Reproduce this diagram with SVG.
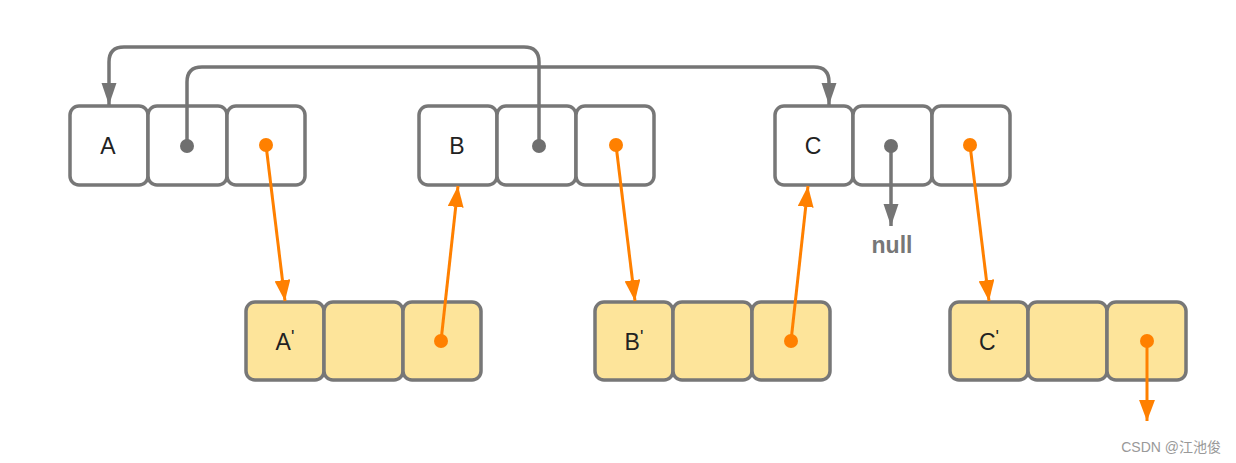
<svg xmlns="http://www.w3.org/2000/svg" width="1236" height="463" viewBox="0 0 1236 463">
<defs>
<style>
.cell{fill:#ffffff;stroke:#777777;stroke-width:3.5}
.ycell{fill:#fde49a;stroke:#777777;stroke-width:3.5}
.lbl{font-family:"Liberation Sans",Arial,sans-serif;font-size:23px;fill:#222222;text-anchor:middle}
.gline{fill:none;stroke:#757575;stroke-width:3.5}
.oline{fill:none;stroke:#ff8000;stroke-width:3}
.gdot{fill:#6f6f6f}
.odot{fill:#ff8000}
</style>
<marker id="ga" viewBox="0 0 10 6.8" refX="10" refY="3.4" markerWidth="6.3" markerHeight="4.3" markerUnits="strokeWidth" orient="auto">
<path d="M0,0 L10,3.4 L0,6.8 z" fill="#757575"/>
</marker>
<marker id="oa" viewBox="0 0 10 7.6" refX="10" refY="3.8" markerWidth="7" markerHeight="5.3" markerUnits="strokeWidth" orient="auto">
<path d="M0,0 L10,3.8 L0,7.6 z" fill="#ff8000"/>
</marker>
</defs>
<rect width="1236" height="463" fill="#ffffff"/>

<g id="nodeA">
<rect class="cell" x="70" y="106" width="78" height="79" rx="9"/>
<rect class="cell" x="148" y="106" width="79" height="79" rx="9"/>
<rect class="cell" x="227" y="106" width="78" height="79" rx="9"/>
<text class="lbl" x="108" y="154">A</text>
</g>
<g id="nodeB">
<rect class="cell" x="419" y="106" width="78" height="79" rx="9"/>
<rect class="cell" x="497" y="106" width="79" height="79" rx="9"/>
<rect class="cell" x="576" y="106" width="78" height="79" rx="9"/>
<text class="lbl" x="457" y="154">B</text>
</g>
<g id="nodeC">
<rect class="cell" x="775" y="106" width="78" height="79" rx="9"/>
<rect class="cell" x="853" y="106" width="79" height="79" rx="9"/>
<rect class="cell" x="932" y="106" width="78" height="79" rx="9"/>
<text class="lbl" x="813" y="154">C</text>
</g>
<g id="nodeA2">
<rect class="ycell" x="246" y="302" width="78" height="78" rx="9"/>
<rect class="ycell" x="324" y="302" width="79" height="78" rx="9"/>
<rect class="ycell" x="403" y="302" width="78" height="78" rx="9"/>
<text class="lbl" x="285" y="350">A<tspan dy="-7" font-size="18">'</tspan></text>
</g>
<g id="nodeB2">
<rect class="ycell" x="595" y="302" width="78" height="78" rx="9"/>
<rect class="ycell" x="673" y="302" width="79" height="78" rx="9"/>
<rect class="ycell" x="752" y="302" width="78" height="78" rx="9"/>
<text class="lbl" x="634" y="350">B<tspan dy="-7" font-size="18">'</tspan></text>
</g>
<g id="nodeC2">
<rect class="ycell" x="950" y="302" width="78" height="78" rx="9"/>
<rect class="ycell" x="1028" y="302" width="79" height="78" rx="9"/>
<rect class="ycell" x="1107" y="302" width="79" height="78" rx="9"/>
<text class="lbl" x="989" y="350">C<tspan dy="-7" font-size="18">'</tspan></text>
</g>

<g id="connectors">
<path class="gline" d="M539,146 V62 Q539,47 524,47 H124 Q109,47 109,62 V105" marker-end="url(#ga)"/>
<path class="gline" d="M187,146 V82 Q187,67 202,67 H814 Q829,67 829,82 V105" marker-end="url(#ga)"/>
<path class="gline" d="M891,146 V226" marker-end="url(#ga)"/>
<line class="oline" x1="266" y1="145" x2="285" y2="301" marker-end="url(#oa)"/>
<line class="oline" x1="441" y1="341" x2="458" y2="186" marker-end="url(#oa)"/>
<line class="oline" x1="616" y1="145" x2="635" y2="301" marker-end="url(#oa)"/>
<line class="oline" x1="791" y1="341" x2="808" y2="186" marker-end="url(#oa)"/>
<line class="oline" x1="970" y1="145" x2="989" y2="301" marker-end="url(#oa)"/>
<line class="oline" x1="1147" y1="341" x2="1147" y2="421" marker-end="url(#oa)"/>
<circle class="gdot" cx="187" cy="146" r="7"/>
<circle class="gdot" cx="539" cy="146" r="7"/>
<circle class="gdot" cx="891" cy="146" r="7"/>
<circle class="odot" cx="266" cy="145" r="7"/>
<circle class="odot" cx="616" cy="145" r="7"/>
<circle class="odot" cx="970" cy="145" r="7"/>
<circle class="odot" cx="441" cy="341" r="7"/>
<circle class="odot" cx="791" cy="341" r="7"/>
<circle class="odot" cx="1147" cy="341" r="7"/>
</g>

<text x="892" y="253" font-family="Liberation Sans,Arial,sans-serif" font-size="23" font-weight="bold" fill="#777777" text-anchor="middle">null</text>
<text x="1221" y="452" font-family="Liberation Sans,Noto Sans CJK SC,sans-serif" font-size="14" fill="#999999" text-anchor="end">CSDN @江池俊</text>
</svg>
